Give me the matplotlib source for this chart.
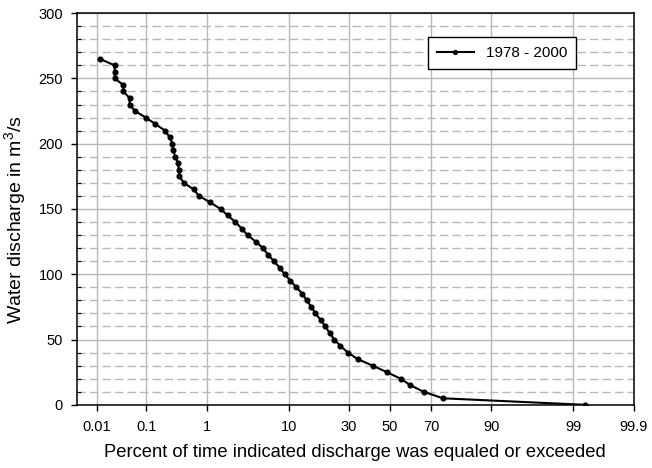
from statistics import NormalDist

import numpy as np
import matplotlib
matplotlib.use("Agg")
import matplotlib.pyplot as plt
from matplotlib.ticker import FixedLocator, FixedFormatter, MultipleLocator

plt.rcParams['font.family'] = ['Liberation Sans', 'DejaVu Sans']
plt.rcParams['mathtext.default'] = 'regular'

# percent of time discharge was equaled or exceeded
exceed_pct = [0.0116, 0.024, 0.024, 0.024, 0.036, 0.036, 0.048, 0.048, 0.061, 0.098,
              0.147, 0.217, 0.26, 0.29, 0.296, 0.325, 0.36, 0.37, 0.38, 0.445,
              0.64, 0.77, 1.13, 1.59, 1.98, 2.5, 3.0, 3.54, 4.43, 5.36,
              6.09, 7.06, 8.09, 9.08, 10.33, 11.76, 13.35, 14.53, 15.94, 17.2,
              18.97, 20.6, 22.2, 24.0, 26.5, 29.7, 34.1, 41.3, 48.4, 55.4,
              60.2, 66.5, 74.9, 99.33]
# water discharge (m3/s)
discharge = [265, 260, 255, 250, 245, 240, 235, 230, 225, 220,
             215, 210, 205, 200, 195, 190, 185, 180, 175, 170,
             165, 160, 155, 150, 145, 140, 135, 130, 125, 120,
             115, 110, 105, 100, 95, 90, 85, 80, 75, 70,
             65, 60, 55, 50, 45, 40, 35, 30, 25, 20,
             15, 10, 5, 0]
series_label = '1978 - 2000'
x_ticks = [0.01, 0.1, 1, 10, 30, 50, 70, 90, 99, 99.9]
x_ticklabels = ['0.01', '0.1', '1', '10', '30', '50', '70', '90', '99', '99.9']

nd = NormalDist()
_ppf = np.vectorize(lambda p: nd.inv_cdf(min(max(p, 1e-12), 1 - 1e-12)), otypes=[float])
_cdf = np.vectorize(lambda z: nd.cdf(z), otypes=[float])


def to_z(pct):
    return _ppf(np.asarray(pct, dtype=float) / 100.0)


def from_z(z):
    return _cdf(np.asarray(z, dtype=float)) * 100.0


fig = plt.figure(figsize=(6.52, 4.68), dpi=100)
ax = fig.add_axes([0.118, 0.135, 0.854, 0.837])
ax.set_xscale('function', functions=(to_z, from_z))

ax.plot(exceed_pct, discharge, color='black', lw=1.5, marker='o', ms=3.4,
        label=series_label, zorder=3)

ax.set_xlim(0.0036, 99.9)
ax.set_ylim(0, 300)
ax.xaxis.set_major_locator(FixedLocator(x_ticks))
ax.xaxis.set_major_formatter(FixedFormatter(x_ticklabels))
ax.xaxis.set_minor_locator(FixedLocator([]))
ax.yaxis.set_major_locator(MultipleLocator(50))
ax.yaxis.set_minor_locator(MultipleLocator(10))

ax.grid(True, which='major', axis='both', color='#b8b8b8', lw=1.0, ls='-', zorder=0)
ax.grid(True, which='minor', axis='y', color='#b8b8b8', lw=1.0, ls=(0, (6, 3)), zorder=0)
ax.set_axisbelow(True)

ax.tick_params(axis='both', which='major', direction='out', length=4, width=1,
               labelsize=10.5, colors='black')
ax.tick_params(axis='x', which='major', pad=7)
ax.tick_params(axis='y', which='major', pad=6)
ax.tick_params(axis='y', which='minor', direction='in', length=3, width=0.8)
for s in ax.spines.values():
    s.set_color('black')
    s.set_linewidth(1.1)

ax.set_xlabel('Percent of time indicated discharge was equaled or exceeded',
              fontsize=13.2, labelpad=7)
ax.set_ylabel('Water discharge in m$^3$/s', fontsize=14)
ax.yaxis.set_label_coords(-0.087, 0.472)

leg = ax.legend(loc='upper left', bbox_to_anchor=(0.630, 0.939), fontsize=11,
                fancybox=False, framealpha=1, edgecolor='black', borderaxespad=0,
                borderpad=0.6, handlelength=2.4, markerscale=0.8)
leg.get_frame().set_linewidth(1.0)

fig.savefig('out.png', dpi=100)
